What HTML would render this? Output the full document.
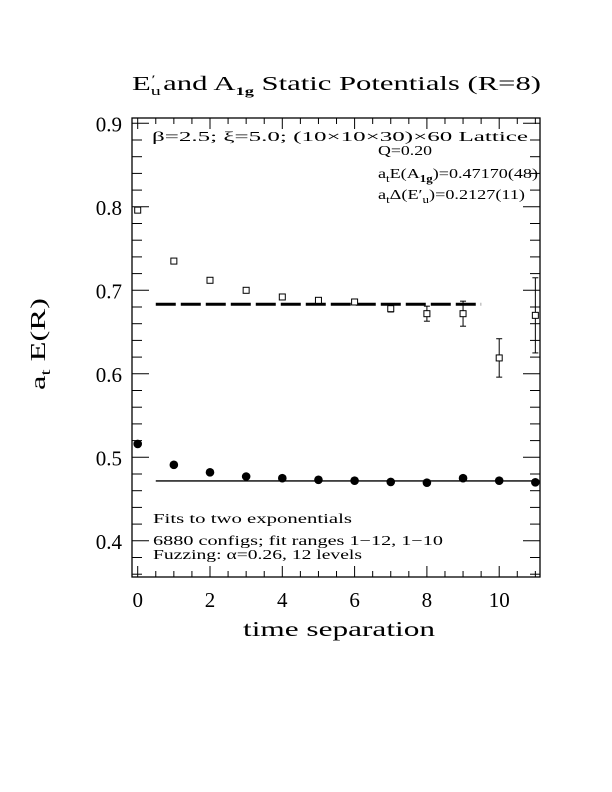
<!DOCTYPE html>
<html><head><meta charset="utf-8"><style>
body{margin:0;background:#fff;}
svg{display:block;font-family:"Liberation Serif",serif;}
</style></head><body>
<svg id="chart" width="612" height="792" viewBox="0 0 612 792">
<text x="132" y="90" font-size="20" textLength="409" lengthAdjust="spacingAndGlyphs">E<tspan font-size="13" dy="5">u</tspan><tspan dy="-12" font-size="12" dx="-6">′</tspan><tspan dy="7">  and A</tspan><tspan font-size="12" dy="5" font-weight="bold">1g</tspan><tspan dy="-5"> Static Potentials (R=8)</tspan></text>
<text x="243" y="636" font-size="21" textLength="192" lengthAdjust="spacingAndGlyphs">time separation</text>
<text transform="translate(45,390) rotate(-90)" font-size="21" textLength="92" lengthAdjust="spacingAndGlyphs">a<tspan font-size="14" dy="5">t</tspan><tspan dy="-5"> E(R)</tspan></text>
<g id="axes"></g>
<g id="marks"></g>
<g font-size="14">
<text x="152" y="141" textLength="376" lengthAdjust="spacingAndGlyphs">β=2.5; ξ=5.0; (10×10×30)×60 Lattice</text>
<text x="378" y="155" textLength="54" lengthAdjust="spacingAndGlyphs">Q=0.20</text>
<text x="378" y="178" textLength="160" lengthAdjust="spacingAndGlyphs">a<tspan font-size="10" dy="4">t</tspan><tspan dy="-4">E(A</tspan><tspan font-size="10" dy="4" font-weight="bold">1g</tspan><tspan dy="-4">)=0.47170(48)</tspan></text>
<text x="378" y="199" textLength="147" lengthAdjust="spacingAndGlyphs">a<tspan font-size="10" dy="4">t</tspan><tspan dy="-4">Δ(E′</tspan><tspan font-size="10" dy="4">u</tspan><tspan dy="-4">)=0.2127(11)</tspan></text>
<text x="153" y="523" textLength="199" lengthAdjust="spacingAndGlyphs">Fits to two exponentials</text>
<text x="153" y="545" textLength="290" lengthAdjust="spacingAndGlyphs">6880 configs; fit ranges 1−12, 1−10</text>
<text x="153" y="559" textLength="209" lengthAdjust="spacingAndGlyphs">Fuzzing: α=0.26, 12 levels</text>
</g>
</svg>
<script>
const times=[0,1,2,3,4,5,6,7,8,9,10,11];
const a1gValues=[0.516,0.491,0.482,0.477,0.475,0.473,0.472,0.4705,0.4696,0.475,0.472,0.470];
const euValues=[0.796,0.735,0.712,0.700,0.692,0.688,0.686,0.678,0.672,0.672,0.619,0.670];
const euErrors=[0.002,0.002,0.002,0.002,0.002,0.002,0.002,0.004,0.009,0.015,0.023,0.045];
const a1gFit=[0.5,11.15,0.4717];
const euFit=[0.5,9.5,0.6833];
const xTickLabels=[0,2,4,6,8,10];
const yTickLabels=[0.4,0.5,0.6,0.7,0.8,0.9];
const X0=132,X1=540,Y0=118,Y1=577;
const xs=v=>137.7+v*36.15;
const ys=v=>457.3-(v-0.5)*835;
const NS="http://www.w3.org/2000/svg";
function mk(p,t,a){const e=document.createElementNS(NS,t);for(const k in a)e.setAttribute(k,a[k]);p.appendChild(e);return e;}
const ax=document.getElementById('axes'),mg=document.getElementById('marks');
const fr=mk(ax,'rect',{x:X0,y:Y0,width:X1-X0,height:Y1-Y0,fill:'none',stroke:'#000','stroke-width':1.3});


for(let i=0;i<=22;i++){const v=i*0.5;const x=xs(v);if(x<X0||x>X1)continue;const L=(i%4==0)?11:6;
mk(ax,'line',{x1:x,x2:x,y1:Y1,y2:Y1-L,stroke:'#000'});mk(ax,'line',{x1:x,x2:x,y1:Y0,y2:Y0+L,stroke:'#000'});}
for(let i=18;i<=45;i++){const v=i*0.02;const y=ys(v);if(y<Y0||y>Y1)continue;const L=(i%5==0)?17:10;
mk(ax,'line',{x1:X0,x2:X0+L,y1:y,y2:y,stroke:'#000'});mk(ax,'line',{x1:X1,x2:X1-L,y1:y,y2:y,stroke:'#000'});}
xTickLabels.forEach(v=>{const t=mk(ax,'text',{x:xs(v),y:607,'font-size':21,'text-anchor':'middle'});t.textContent=v;

});
yTickLabels.forEach(v=>{const t=mk(ax,'text',{x:122,y:ys(v)+8,'font-size':21,'text-anchor':'end'});t.textContent=v.toFixed(1);

});
const l1=mk(mg,'line',{x1:xs(a1gFit[0]),x2:Math.min(X1,xs(a1gFit[1])),y1:ys(a1gFit[2]),y2:ys(a1gFit[2]),stroke:'#000','stroke-width':1.3});


const l2=mk(mg,'line',{x1:xs(euFit[0]),x2:xs(euFit[1]),y1:ys(euFit[2]),y2:ys(euFit[2]),stroke:'#000','stroke-width':3,'stroke-dasharray':'20,5'});


times.forEach((t,i)=>{const c=mk(mg,'circle',{cx:xs(t),cy:ys(a1gValues[i]),r:4.3,fill:'#000'});


const x=xs(t),y=ys(euValues[i]),e=euErrors[i]*835;
const g=mk(mg,'g',{});


mk(g,'line',{x1:x,x2:x,y1:y-e,y2:y+e,stroke:'#000'});
mk(g,'line',{x1:x-3,x2:x+3,y1:y-e,y2:y-e,stroke:'#000'});
mk(g,'line',{x1:x-3,x2:x+3,y1:y+e,y2:y+e,stroke:'#000'});
mk(g,'rect',{x:x-3,y:y-3,width:6,height:6,fill:'#fff',stroke:'#000'});});
</script>
</body></html>
